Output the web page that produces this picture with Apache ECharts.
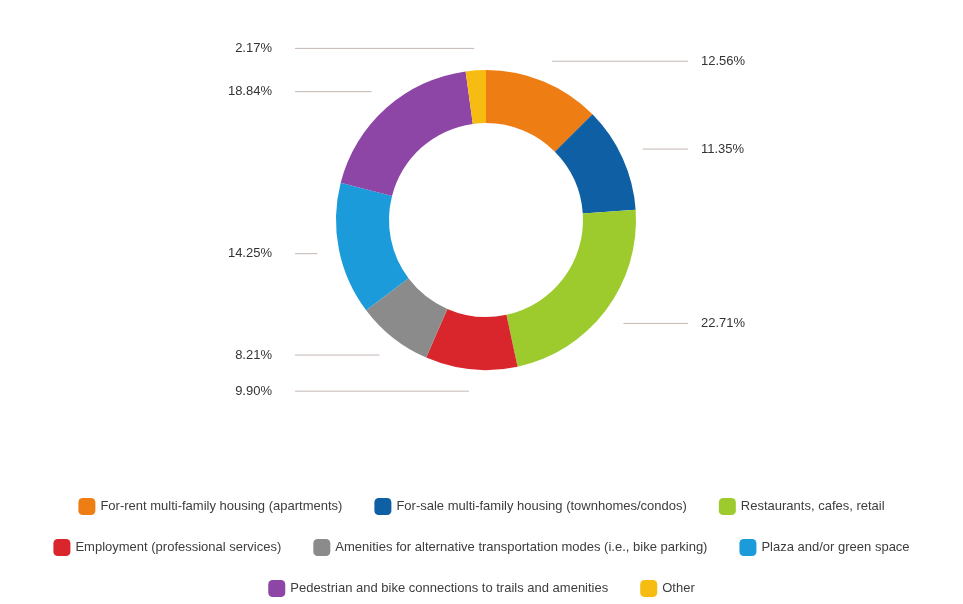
<!DOCTYPE html>
<html>
<head>
<meta charset="utf-8">
<script src="https://cdn.jsdelivr.net/npm/echarts@6/dist/echarts.min.js"></script>
<style>
  html, body { margin: 0; padding: 0; background: #ffffff; }
  #chart { width: 963px; height: 604px; }
</style>
</head>
<body>
<div id="chart"></div>
<script>
// Survey categories, in slice order (clockwise from 12 o'clock)
const categories = [
  'For-rent multi-family housing (apartments)',
  'For-sale multi-family housing (townhomes/condos)',
  'Restaurants, cafes, retail',
  'Employment (professional services)',
  'Amenities for alternative transportation modes (i.e., bike parking)',
  'Plaza and/or green space',
  'Pedestrian and bike connections to trails and amenities',
  'Other'
];
// Share of responses, percent
const shares = [12.56, 11.35, 22.71, 9.90, 8.21, 14.25, 18.84, 2.17];
const colors = ['#EE7D14', '#0E5FA3', '#9DCB2E', '#D8262C', '#8B8B8B', '#1B9BDA', '#8D45A6', '#F6BC12'];

// Legend rows
const legendRows = [
  categories.slice(0, 3),
  categories.slice(3, 6),
  categories.slice(6, 8)
];

const FONT = 'Liberation Sans';
const CENTER = [486, 220];
// Where the horizontal leader lines stop on each side, and the gap to the text
const LINE_END_LEFT = 295, LINE_END_RIGHT = 688;
const GAP_LEFT = 23, GAP_RIGHT = 13;

const chart = echarts.init(document.getElementById('chart'), null, { renderer: 'canvas' });

const legends = legendRows.map((row, i) => ({
  data: row,
  left: 'center',
  top: 493 + i * 41,
  orient: 'horizontal',
  icon: 'roundRect',
  itemWidth: 17,
  itemHeight: 17,
  itemGap: 32,
  selectedMode: false,
  textStyle: { fontFamily: FONT, fontSize: 13, color: '#3d3d3d' }
}));

chart.setOption({
  backgroundColor: '#ffffff',
  animation: false,
  color: colors,
  legend: legends,
  series: [{
    type: 'pie',
    center: CENTER,
    radius: [97, 150],
    startAngle: 90,
    clockwise: true,
    avoidLabelOverlap: false,
    itemStyle: { borderWidth: 0 },
    label: {
      show: true,
      position: 'outside',
      fontFamily: FONT,
      fontSize: 13,
      color: '#333333',
      formatter: p => p.value.toFixed(2) + '%'
    },
    labelLine: {
      show: true,
      length: 22,
      length2: 20,
      lineStyle: { color: '#c4b8b2', width: 1 }
    },
    // Leader lines run horizontally from the elbow point out to a common edge per side
    labelLayout: params => {
      const pts = params.labelLinePoints;
      if (!pts) return {};
      const elbow = pts[1];
      const left = elbow[0] < CENTER[0];
      const endX = left ? LINE_END_LEFT : LINE_END_RIGHT;
      return {
        x: left ? endX - GAP_LEFT : endX + GAP_RIGHT,
        y: elbow[1],
        align: left ? 'right' : 'left',
        verticalAlign: 'middle',
        labelLinePoints: [[elbow[0], elbow[1]], [elbow[0], elbow[1]], [endX, elbow[1]]]
      };
    },
    data: categories.map((name, i) => ({ name, value: shares[i] }))
  }]
});
</script>
</body>
</html>
